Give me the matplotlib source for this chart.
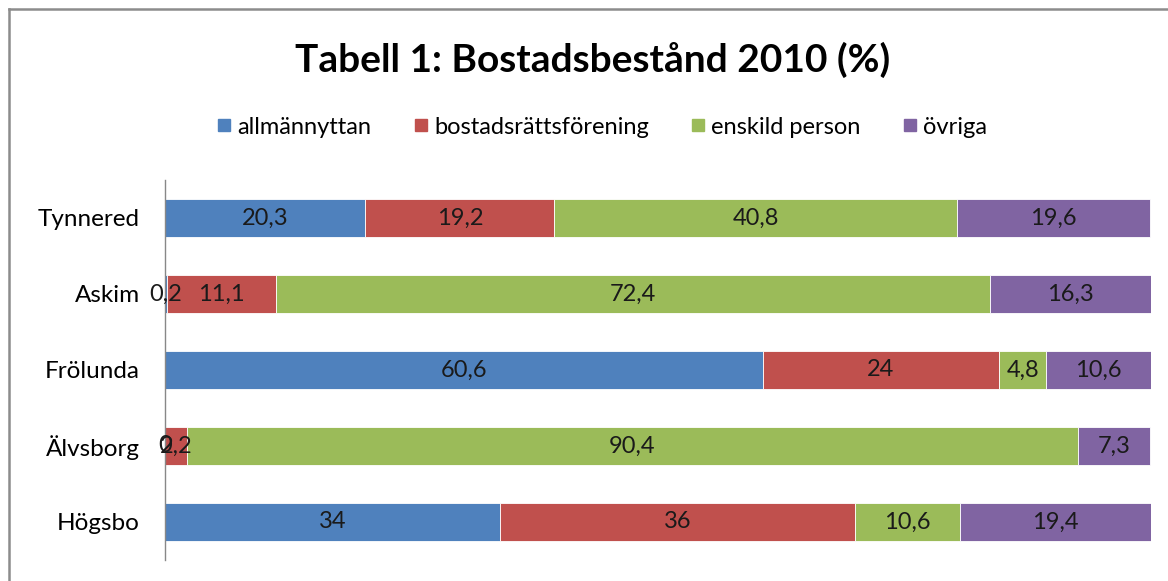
import numpy as np
import matplotlib.pyplot as plt
from matplotlib.lines import Line2D

plt.rcParams["font.family"] = ["Lato", "DejaVu Sans"]

# data (Högsbo at the bottom)
omraden = ["Högsbo", "Älvsborg", "Frölunda", "Askim", "Tynnered"]
allmannyttan = [34, 0, 60.6, 0.2, 20.3]
bostadsratt = [36, 2.2, 24, 11.1, 19.2]
enskild = [10.6, 90.4, 4.8, 72.4, 40.8]
ovriga = [19.4, 7.3, 10.6, 16.3, 19.6]
serier = ["allmännyttan", "bostadsrättsförening", "enskild person", "övriga"]
farger = ["#4F81BD", "#C0504D", "#9BBB59", "#8064A2"]


def fmt(v):
    return ("%g" % v).replace(".", ",")


fig = plt.figure(figsize=(11.68, 5.81), dpi=100)
ax = fig.add_axes([165 / 1168, 21 / 581, 986 / 1168, 380 / 581])

y = np.arange(len(omraden))
left = np.zeros(len(omraden))
for vals, namn, c in zip([allmannyttan, bostadsratt, enskild, ovriga], serier, farger):
    bars = ax.barh(y, vals, left=left, height=0.5, color=c, label=namn,
                   edgecolor="white", linewidth=0.6)
    ax.bar_label(bars, labels=[fmt(v) for v in vals], label_type="center",
                 fontsize=17, color="#1a1a1a")
    left += np.array(vals)

ax.set_xlim(0, 100)
ax.set_ylim(-0.5, 4.5)
ax.set_yticks(y)
ax.set_yticklabels(omraden, fontsize=17.5)
ax.tick_params(axis="y", length=0, pad=18)
ax.set_xticks([])
for s in ["top", "right", "bottom"]:
    ax.spines[s].set_visible(False)
ax.spines["left"].set_color("#888888")
ax.spines["left"].set_linewidth(1.0)

# legend
handles = [Line2D([], [], marker="s", linestyle="none", markersize=9,
                  markerfacecolor=c, markeredgecolor=c) for c in farger]
fig.legend(handles, serier, loc="center", bbox_to_anchor=(600 / 1168, 1 - 127 / 581),
           ncol=4, frameon=False, fontsize=17, handletextpad=0.05,
           columnspacing=1.6, handlelength=1.0)

fig.text(593 / 1168, 1 - 60 / 581, "Tabell 1: Bostadsbestånd 2010 (%)",
         ha="center", va="center", fontsize=28, fontweight="bold")

# chart frame (only top and left visible)
fig.add_artist(Line2D([9 / 1168, 1.0], [1 - 9 / 581, 1 - 9 / 581],
                      transform=fig.transFigure, color="#8c8c8c", linewidth=1.8))
fig.add_artist(Line2D([9 / 1168, 9 / 1168], [0, 1 - 9 / 581],
                      transform=fig.transFigure, color="#8c8c8c", linewidth=1.8))

fig.savefig("out.png", dpi=100)
